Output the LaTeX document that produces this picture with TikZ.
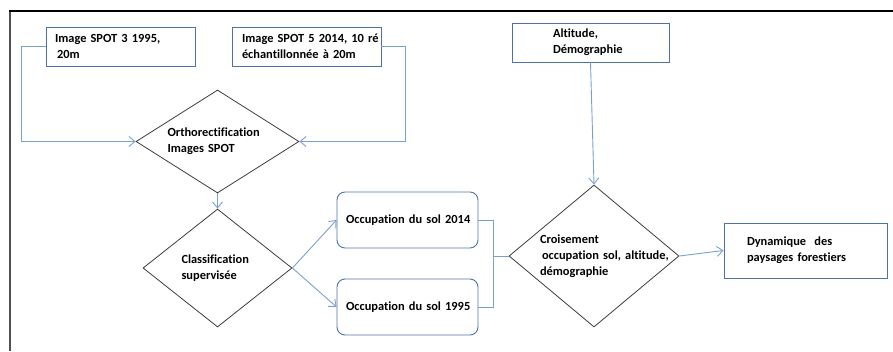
\documentclass[tikz,border=0pt]{standalone}
\usepackage{fontspec}
\setmainfont{Carlito}[Ligatures=NoCommon]
\usetikzlibrary{shapes.geometric,arrows.meta}

\definecolor{boxblue}{RGB}{79,113,170}
\definecolor{linkblue}{RGB}{122,160,210}
\definecolor{diagray}{RGB}{60,60,60}
\definecolor{framegray}{RGB}{80,80,80}

\tikzset{
  txt/.style={font=\bfseries\fontsize{12.4}{15.8}\selectfont, align=left},
  imgbox/.style={txt, rectangle, draw=boxblue, line width=0.9pt, inner ysep=0pt},
  decision/.style={txt, diamond, draw=diagray, line width=0.8pt, inner sep=0pt},
  link/.style={draw=linkblue, line width=0.9pt},
  flow/.style={link, -{Straight Barb[length=6pt,width=10pt]}},
}

\begin{document}
\begin{tikzpicture}[x=1pt,y=-1pt]
  \useasboundingbox (0,0) rectangle (893,351);
  % frame of the page
  \draw[framegray, line width=2.2pt] (10,351) -- (10,11);
  \draw[black, line width=1.2pt] (9,11) -- (893,11);
  % input images
  \node[imgbox, text width=131pt, inner xsep=9pt, minimum height=39pt] (spot3) at (120.5,46.5)
    {Image SPOT 3 1995,\\\hspace{2pt}20m};
  \node[imgbox, text width=129pt, inner xsep=10pt, minimum height=39pt] (spot5) at (306.5,46.5)
    {\mbox{Image SPOT 5 2014, 10 ré}\\échantillonnée à 20m};
  \node[imgbox, text width=75pt, inner xsep=41pt, minimum height=39pt] (alt) at (590.5,42.5)
    {Altitude,\\Démographie};
  % processing steps
  \node[decision, minimum width=163pt, minimum height=103pt, aspect=1.58, text width=100pt] (ortho) at (217.5,141.5)
    {Orthorectification\\Images SPOT};
  \node[decision, minimum width=149pt, minimum height=118pt, aspect=1.26, text width=72pt] (classif) at (217.5,268)
    {\mbox{Classification}\\supervisée};
  \node[imgbox, rounded corners=8pt, text width=123pt, inner xsep=9pt, minimum height=56pt] (occ14) at (407.5,220)
    {\mbox{Occupation du sol 2014}};
  \node[imgbox, rounded corners=8pt, text width=123pt, inner xsep=9pt, minimum height=56pt] (occ95) at (407.5,307)
    {\mbox{Occupation du sol 1995}};
  \node[decision, minimum width=170pt, minimum height=142pt, aspect=1.2, text width=108pt] (croise) at (594,256)
    {Croisement\\\mbox{\hspace{2pt}occupation sol, altitude,}\\démographie};
  \node[imgbox, text width=117pt, inner xsep=23pt, minimum height=55pt] (dyn) at (805.5,250.5)
    {Dynamique\ \ des\\paysages forestiers};
  % connectors
  \draw[flow] (spot3.west) -- ++(-24,0) |- (ortho.west);
  \draw[flow] (spot5.east) -- ++(24,0) |- (ortho.east);
  \draw[flow] (ortho.south) -- (classif.north);
  \draw[flow] (classif.east) -- (occ14.west);
  \draw[flow] (classif.east) -- (occ95.west);
  \draw[link] (occ14.east) -- ++(15,0) coordinate (join) |- (occ95.east);
  \draw[link] (join |- croise.west) -- (croise.west);
  \draw[flow] (alt.south) -- (croise.north);
  \draw[flow] (croise.east) -- (dyn.west);
\end{tikzpicture}
\end{document}
